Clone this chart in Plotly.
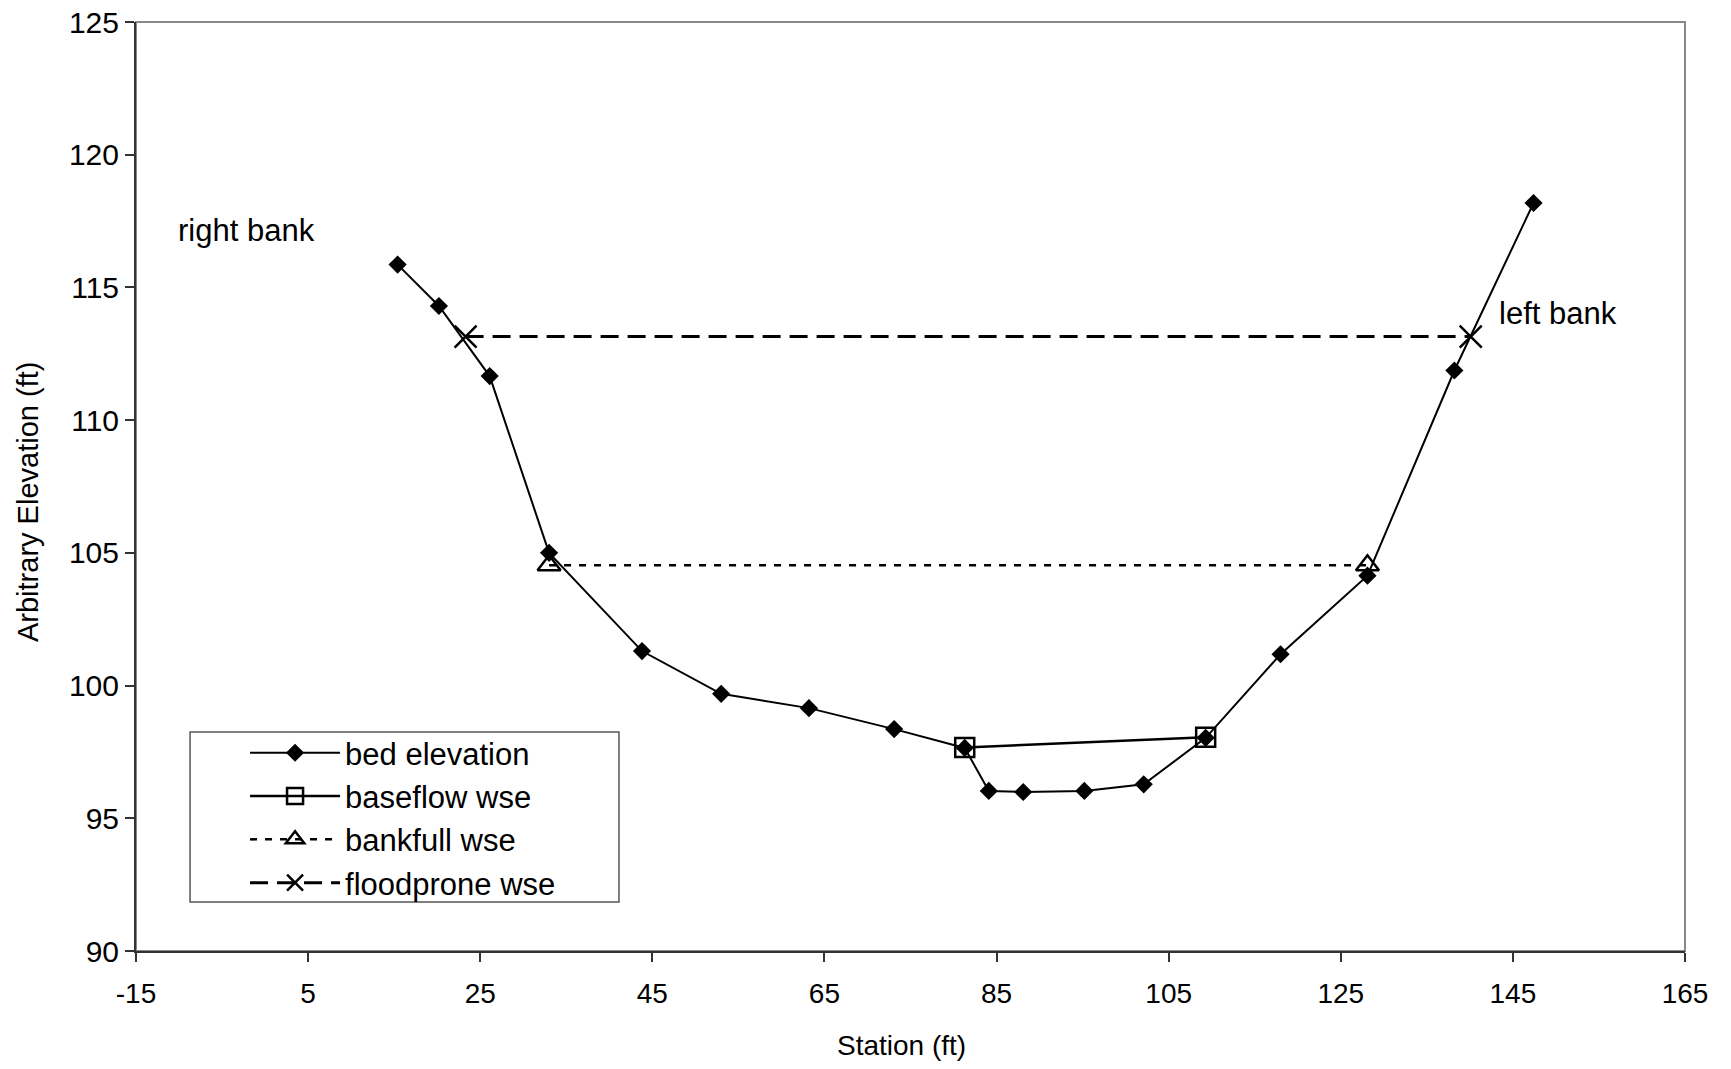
import plotly.graph_objects as go

# Data
bed_station = [15.4, 20.2, 26.1, 33.0, 43.8, 53.0, 63.2, 73.1, 81.3, 84.1, 88.1, 95.2, 102.1, 109.3, 118.0, 128.1, 138.2, 147.4]
bed_elev = [115.86, 114.3, 111.66, 105.0, 101.3, 99.69, 99.15, 98.36, 97.65, 96.03, 95.99, 96.03, 96.28, 98.03, 101.18, 104.14, 111.87, 118.18]

baseflow_station = [81.3, 109.3]
baseflow_elev = [97.67, 98.05]

bankfull_station = [33.0, 128.1]
bankfull_elev = [104.53, 104.53]

floodprone_station = [23.3, 140.1]
floodprone_elev = [113.15, 113.15]

x_ticks = [-15, 5, 25, 45, 65, 85, 105, 125, 145, 165]
x_tick_labels = ["-15", "5", "25", "45", "65", "85", "105", "125", "145", "165"]
y_ticks = [90, 95, 100, 105, 110, 115, 120, 125]

FONT = "Liberation Sans, Arial, sans-serif"

fig = go.Figure()
fig.add_trace(go.Scatter(x=bed_station, y=bed_elev, name="bed elevation", mode="lines+markers",
                         line=dict(color="black", width=2),
                         marker=dict(symbol="diamond", size=14, color="black")))
fig.add_trace(go.Scatter(x=baseflow_station, y=baseflow_elev, name="baseflow wse", mode="lines+markers",
                         line=dict(color="black", width=2.5),
                         marker=dict(symbol="square-open", size=19, color="black", line=dict(width=2.5))))
fig.add_trace(go.Scatter(x=bankfull_station, y=bankfull_elev, name="bankfull wse", mode="lines+markers",
                         line=dict(color="black", width=2.5, dash="7px,8px"),
                         marker=dict(symbol="triangle-up-open", size=20, color="black", line=dict(width=2.5))))
fig.add_trace(go.Scatter(x=floodprone_station, y=floodprone_elev, name="floodprone wse", mode="lines+markers",
                         line=dict(color="black", width=3, dash="18px,9px"),
                         marker=dict(symbol="x-thin-open", size=22, color="black", line=dict(width=2.5))))

fig.add_annotation(x=-10.3, y=117.14, text="right bank", showarrow=False, xanchor="left", yanchor="middle",
                   font=dict(size=31, color="black", family=FONT))
fig.add_annotation(x=143.2, y=114.0, text="left bank", showarrow=False, xanchor="left", yanchor="middle",
                   font=dict(size=31, color="black", family=FONT))

# axis titles
fig.add_annotation(xref="paper", yref="paper", x=0.4939, y=0, yshift=-94, text="Station (ft)",
                   showarrow=False, xanchor="center", yanchor="middle",
                   font=dict(size=28, color="black", family=FONT))
fig.add_annotation(xref="paper", yref="paper", x=0, xshift=-108, y=0.4833, text="Arbitrary Elevation (ft)",
                   textangle=-90, showarrow=False, xanchor="center", yanchor="middle",
                   font=dict(size=29, color="black", family=FONT))

# gray frame on top/right
fig.add_shape(type="rect", xref="paper", yref="paper", x0=0, y0=0, x1=1, y1=1,
              line=dict(color="#888888", width=2), layer="below")
# legend box
fig.add_shape(type="rect", xref="paper", yref="paper", x0=0.0349, y0=0.0527, x1=0.3118, y1=0.2357,
              line=dict(color="#555555", width=1.5), fillcolor="white", layer="below")

fig.update_layout(
    width=1715, height=1053,
    margin=dict(l=128, r=38, t=14, b=110, autoexpand=False),
    paper_bgcolor="white", plot_bgcolor="white",
    font=dict(family=FONT, size=28, color="black"),
    showlegend=True,
    legend=dict(x=0.0704, y=0.2421, xanchor="left", yanchor="top",
                borderwidth=0, bgcolor="rgba(0,0,0,0)",
                font=dict(size=31, family=FONT), itemwidth=90, tracegroupgap=0),
    xaxis=dict(range=[-15, 165], tickmode="array", tickvals=x_ticks, ticktext=x_tick_labels,
               automargin=False, ticklabeloverflow="allow",
               showgrid=False, zeroline=False, showline=True, linecolor="#333333", linewidth=2,
               ticks="outside", ticklen=9, tickcolor="#333333", tickwidth=1.5, ticklabelstandoff=7,
               tickfont=dict(size=28)),
    yaxis=dict(range=[90, 125], tickmode="array", tickvals=y_ticks,
               automargin=False, ticklabeloverflow="allow",
               showgrid=False, zeroline=False, showline=True, linecolor="#333333", linewidth=2,
               ticks="outside", ticklen=9, tickcolor="#333333", tickwidth=1.5,
               tickfont=dict(size=30)),
)

fig.write_html("out.html")
